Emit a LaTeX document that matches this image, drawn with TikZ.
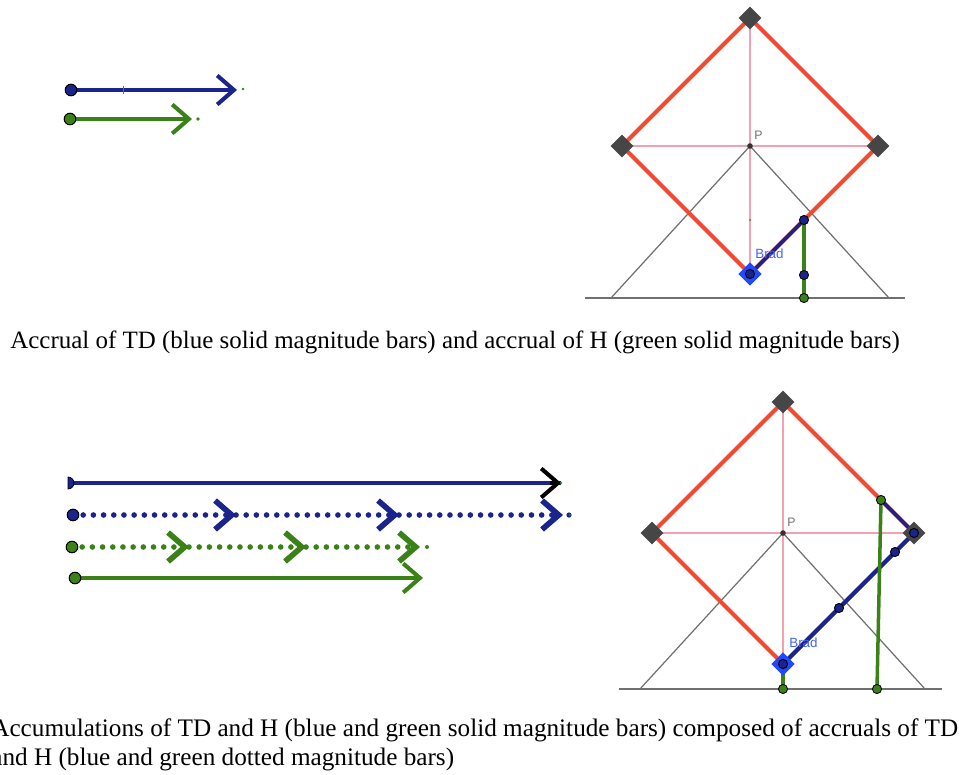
\documentclass[tikz,border=0pt]{standalone}
\usepackage{fontspec}
\setmainfont{Liberation Serif}
\setsansfont{Liberation Sans}
\usetikzlibrary{arrows.meta,shapes.geometric}

\definecolor{tdblue}{RGB}{26,36,140}
\definecolor{hgreen}{RGB}{58,130,24}
\definecolor{edgered}{RGB}{240,74,50}
\definecolor{axispink}{RGB}{242,160,178}
\definecolor{sightgray}{RGB}{112,112,112}
\definecolor{cornergray}{RGB}{70,70,70}
\definecolor{bradblue}{RGB}{32,72,255}

\tikzset{
  tdbar/.style={tdblue,line width=2.3pt},
  hbar/.style={hgreen,line width=2.3pt},
  accrual/.style={line width=3.2pt,line cap=round,dash pattern=on 0pt off 5.8pt},
  startdot/.style={circle,draw=black,line width=0.6pt,inner sep=0pt,minimum size=6.6pt},
  ptdot/.style={circle,draw=black,line width=0.5pt,inner sep=0pt,minimum size=5.2pt},
  corner/.style={diamond,fill=cornergray,inner sep=0pt,minimum size=13pt},
  bradmark/.style={diamond,fill=bradblue,inner sep=0pt,minimum size=13.5pt},
  caption/.style={font=\fontsize{14.35}{16.5}\selectfont,inner sep=0pt,anchor=base west},
  ptlabel/.style={font=\sffamily\fontsize{7}{8}\selectfont,text=sightgray,inner sep=0pt},
  bradlabel/.style={font=\sffamily\fontsize{7.6}{8}\selectfont,text=bradblue!85,inner sep=0pt,anchor=west},
}

\begin{document}
\begin{tikzpicture}[x=0.02cm,y=-0.02cm,>={Straight Barb[length=9.5pt,width=16.5pt]}]
\useasboundingbox (0,0) rectangle (963,774);

% ---------- accrual bars (top)
\coordinate (td0) at (71,90);
\coordinate (td1) at (237,90);
\coordinate (h0) at (70,119);
\coordinate (h1) at (192,119);
\draw[tdbar,->] (td0) -- (td1);
\draw[tdblue!70,line width=0.4pt] (123,86) -- (123,94);
\draw[hbar,->] (h0) -- (h1);
\node[startdot,fill=tdblue] (td0dot) at (td0) {};
\node[startdot,fill=hgreen] (h0dot) at (h0) {};
\fill[hgreen] (243,89) circle (1.3);
\fill[hgreen] (198,119) circle (1.8);

% ---------- top field
\coordinate (P1) at (750,146);
\coordinate (T1) at (750,18);
\coordinate (B1) at (750,274);
\coordinate (L1) at (622,146);
\coordinate (R1) at (878,146);
\coordinate (Q1) at (804,220);
\coordinate (M1) at (804,275);
\coordinate (G1) at (804,298);
\coordinate (gl1) at (585,298);
\coordinate (gr1) at (905,298);
\coordinate (sl1) at (611,298);
\coordinate (sr1) at (889,298);
\draw[sightgray,line width=0.7pt] (gl1) -- (gr1);
\draw[sightgray,line width=0.7pt] (sl1) -- (P1) -- (sr1);
\draw[axispink,line width=0.9pt] (T1) -- (B1) (L1) -- (R1);
\draw[edgered,line width=2.4pt,line join=round] (T1) -- (L1) -- (B1) -- (R1) -- cycle;
\draw[tdblue,line width=2.2pt] (B1) -- (Q1);
\draw[hgreen,line width=2pt] (Q1) -- (G1);
\fill[hgreen] (750,220) circle (1);
\foreach \v in {T1,L1,R1}
  \node[corner] at (\v) {};
\node[bradmark] (brad1) at (B1) {};
\fill[black!80] (P1) circle (2.8);
\node[ptlabel,anchor=south west] (p1lab) at (754,140) {P};
\node[bradlabel] (brad1lab) at (755,254) {Brad};
\node[ptdot,fill=tdblue] (b1dot) at (B1) {};
\node[ptdot,fill=tdblue] (q1dot) at (Q1) {};
\node[ptdot,fill=tdblue] (m1dot) at (M1) {};
\node[ptdot,fill=hgreen] (g1dot) at (G1) {};

% ---------- caption 1
\node[caption,font=\fontsize{14.2}{16.5}\selectfont] (cap1) at (10,348) {Accrual of TD (blue solid magnitude bars) and accrual of H (green solid magnitude bars)};

% ---------- accumulation and accrual bars (bottom)
\coordinate (acc0) at (68,483);
\coordinate (acc1) at (561,483);
\draw[tdbar] (acc0) -- (acc1);
\draw[black,line width=2.3pt,->] (550,483) -- (acc1);
\fill[tdblue,draw=black,line width=0.4pt] (68,489) arc (90:-90:6) -- cycle;
\fill[hgreen] (561,483) circle (1.3);

\coordinate (ta0) at (73,515);
\coordinate (ta1) at (236,515);
\coordinate (ta2) at (399,515);
\coordinate (ta3) at (563,515);
\draw[tdblue,accrual,->] (ta0) -- (ta1);
\draw[tdblue,accrual,->] (ta1) -- (ta2);
\draw[tdblue,accrual,->] (ta2) -- (ta3);
\fill[tdblue] (569,515) circle (2.6);
\fill[hgreen] (570,515) circle (1.2);
\node[startdot,fill=tdblue] (ta0dot) at (ta0) {};

\coordinate (ha0) at (72,547);
\coordinate (ha1) at (189,547);
\coordinate (ha2) at (306,547);
\coordinate (ha3) at (420,547);
\draw[hgreen,accrual,->] (ha0) -- (ha1);
\draw[hgreen,accrual,->] (ha1) -- (ha2);
\draw[hgreen,accrual,->] (ha2) -- (ha3);
\fill[hgreen] (427,547) circle (2);
\node[startdot,fill=hgreen] (ha0dot) at (ha0) {};

\coordinate (hc0) at (75,578);
\coordinate (hc1) at (423,578);
\draw[hbar,->] (hc0) -- (hc1);
\node[startdot,fill=hgreen] (hc0dot) at (hc0) {};

% ---------- bottom field
\coordinate (P2) at (783,533);
\coordinate (T2) at (783,402);
\coordinate (B2) at (783,664);
\coordinate (L2) at (652,533);
\coordinate (R2) at (914,533);
\coordinate (S2) at (881,500);
\coordinate (D1) at (839,608);
\coordinate (D2) at (895,552);
\coordinate (F1) at (783,689);
\coordinate (F2) at (877,689);
\coordinate (gl2) at (619,689);
\coordinate (gr2) at (942,689);
\coordinate (sl2) at (640,689);
\coordinate (sr2) at (925,689);
\draw[sightgray,line width=0.7pt] (gl2) -- (gr2);
\draw[sightgray,line width=0.7pt] (sl2) -- (P2) -- (sr2);
\draw[axispink,line width=0.9pt] (T2) -- (B2) (L2) -- (R2);
\draw[edgered,line width=2.4pt,line join=round] (T2) -- (L2) -- (B2) -- (R2) -- cycle;
\draw[tdblue,line width=2.2pt,line join=round] (B2) -- (R2) -- (S2);
\draw[hgreen,line width=2pt] (S2) -- (F2);
\draw[hgreen,line width=2pt] (B2) -- (F1);
\foreach \v in {T2,L2,R2}
  \node[corner] at (\v) {};
\node[bradmark] (brad2) at (B2) {};
\fill[black!80] (P2) circle (2.8);
\node[ptlabel,anchor=south west] (p2lab) at (787,527) {P};
\node[bradlabel] (brad2lab) at (789,643) {Brad};
\node[ptdot,fill=tdblue] (b2dot) at (B2) {};
\node[ptdot,fill=tdblue] (r2dot) at (R2) {};
\node[ptdot,fill=tdblue] (d1dot) at (D1) {};
\node[ptdot,fill=tdblue] (d2dot) at (D2) {};
\node[ptdot,fill=hgreen] (s2dot) at (S2) {};
\node[ptdot,fill=hgreen] (f1dot) at (F1) {};
\node[ptdot,fill=hgreen] (f2dot) at (F2) {};

% ---------- caption 2
\node[caption] (cap2a) at (-9,736) {Accumulations of TD and H (blue and green solid magnitude bars) composed of accruals of TD};
\node[caption] (cap2b) at (-9,765) {and H (blue and green dotted magnitude bars)};
\end{tikzpicture}
\end{document}
